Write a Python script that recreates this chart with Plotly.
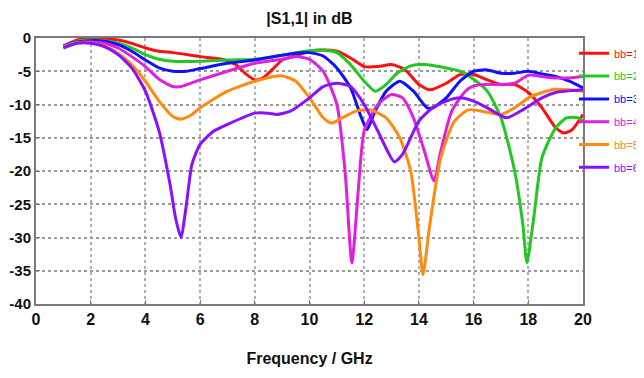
import plotly.graph_objects as go

# ---- data ----
f1 = [1, 1.5, 2, 2.5, 3, 3.5, 4, 4.5, 5, 6, 6.8, 7.3, 7.7, 8, 8.3, 8.7, 9, 9.5, 10, 10.5, 11, 11.5, 12, 12.5, 13, 13.5, 14, 14.4, 15, 15.5, 16, 16.5, 17, 17.5, 18, 18.5, 19, 19.3, 19.6, 20]
s1 = [-1.2, -0.3, -0.1, -0.1, -0.3, -0.8, -1.5, -2.0, -2.2, -2.8, -3.2, -4.0, -5.5, -6.3, -6.0, -4.5, -3.3, -2.7, -2.0, -1.8, -2.0, -3.0, -4.3, -4.3, -4.0, -4.8, -7.0, -7.8, -6.8, -5.5, -5.5, -6.3, -7.0, -7.0, -8.2, -10.5, -13.5, -14.3, -13.8, -11.5]

f2 = [1, 1.5, 2, 2.5, 3, 3.5, 4, 4.5, 5, 6, 7, 8, 9, 9.5, 10, 10.5, 11, 11.5, 12, 12.4, 12.8, 13.2, 13.7, 14.2, 15, 15.5, 16, 16.5, 17, 17.5, 17.8, 17.95, 18.2, 18.5, 19, 19.4, 19.8, 20]
s2 = [-1.2, -0.5, -0.3, -0.4, -0.8, -1.5, -2.5, -3.2, -3.5, -3.5, -3.3, -3.2, -2.6, -2.2, -1.9, -1.8, -2.2, -4.0, -6.5, -8.0, -7.0, -5.3, -4.2, -4.0, -4.5, -5.0, -6.2, -8.0, -12.0, -20.0, -28.0, -33.8, -27.0, -18.0, -13.5, -12.0, -12.0, -12.5]

f3 = [1, 1.5, 2, 2.5, 3, 3.5, 4, 4.5, 5, 5.5, 6, 7, 8, 9, 9.5, 10, 10.5, 11, 11.5, 11.9, 12.1, 12.4, 12.8, 13.3, 13.8, 14.3, 14.5, 15, 15.5, 16, 16.5, 17, 17.5, 18, 18.5, 19, 19.5, 20]
s3 = [-1.2, -0.6, -0.4, -0.5, -1.0, -2.0, -3.3, -4.5, -5.0, -5.0, -4.6, -3.8, -3.3, -2.6, -2.3, -2.2, -2.7, -4.5, -7.5, -12.0, -13.8, -11.0, -8.0, -6.5, -8.0, -10.5, -10.5, -9.0, -6.5, -5.0, -4.8, -5.3, -5.3, -5.0, -5.4, -5.8, -6.5, -7.5]

f4 = [1, 1.5, 2, 2.5, 3, 3.5, 4, 4.5, 5, 5.3, 6, 7, 8, 9, 9.5, 10, 10.5, 11, 11.3, 11.55, 11.8, 12, 12.5, 13, 13.4, 13.8, 14.2, 14.55, 14.8, 15.2, 15.7, 16, 16.5, 17, 17.5, 18, 18.5, 19, 19.5, 20]
s4 = [-1.3, -0.7, -0.6, -0.8, -1.5, -2.8, -4.3, -6.2, -7.3, -7.3, -6.3, -5.0, -3.8, -3.2, -2.8, -3.2, -5.0, -10.0, -20.0, -33.8, -22.0, -14.0, -10.0, -8.5, -9.0, -12.0, -17.0, -21.5, -17.0, -11.0, -8.0, -7.2, -7.0, -7.0, -6.8, -5.6, -5.8, -6.0, -6.0, -5.8]

f5 = [1, 1.5, 2, 2.5, 3, 3.5, 4, 4.5, 5, 5.3, 5.7, 6, 7, 8, 9, 9.5, 10, 10.5, 10.8, 11.2, 11.7, 12.2, 12.8, 13.3, 13.7, 14.0, 14.15, 14.4, 14.8, 15.3, 15.8, 16.3, 17, 17.5, 18, 18.5, 19, 19.5, 20]
s5 = [-1.3, -0.7, -0.7, -1.2, -2.3, -4.0, -6.5, -9.5, -11.8, -12.2, -11.5, -10.5, -8.0, -6.5, -5.7, -6.5, -9.0, -12.0, -12.8, -12.0, -11.0, -10.8, -12.0, -15.0, -20.0, -30.0, -35.6, -28.0, -18.0, -12.5, -10.8, -11.0, -11.5, -10.5, -9.0, -8.2, -7.7, -7.8, -8.0]

f6 = [1, 1.5, 2, 2.5, 3, 3.5, 4, 4.5, 4.9, 5.1, 5.3, 5.5, 5.7, 6, 6.5, 7, 8, 8.5, 8.8, 9.3, 10, 10.5, 11, 11.5, 12, 12.5, 13.1, 13.4, 14, 14.5, 15, 15.5, 16, 16.5, 17.2, 17.8, 18.5, 19, 20]
s6 = [-1.5, -0.8, -0.8, -1.3, -2.5, -4.5, -8.0, -14.0, -22.0, -27.0, -30.0, -25.0, -19.0, -16.0, -14.0, -13.0, -11.3, -11.3, -11.5, -11.0, -9.0, -7.3, -6.8, -7.3, -10.0, -14.0, -18.6, -17.5, -12.5, -10.5, -9.5, -9.0, -9.5, -10.5, -12.0, -10.8, -9.0, -8.2, -7.8]

names = ["bb=1", "bb=2", "bb=3", "bb=4", "bb=5", "bb=6"]
colors = ["#ff1010", "#22c822", "#1010ff", "#e020e0", "#ff8a10", "#8a10ff"]

x_ticks = [0, 2, 4, 6, 8, 10, 12, 14, 16, 18, 20]
y_ticks = [0, -5, -10, -15, -20, -25, -30, -35, -40]

FONT = "Liberation Sans, Arial, sans-serif"

# the page body adds an 8px offset, so the figure is sized to fit the window
W, H = 636, 370
L, R, T, B = 28, 61, 30, 74
plot_w = W - L - R

fig = go.Figure()
for fx, sy, nm, c in zip([f1, f2, f3, f4, f5, f6], [s1, s2, s3, s4, s5, s6], names, colors):
    fig.add_trace(go.Scatter(
        x=fx, y=sy, mode="lines",
        name=f'<span style="color:{c}">{nm}</span>', legendgroup=nm,
        line=dict(color=c, width=3, shape="spline", smoothing=0.6),
    ))

fig.update_layout(
    width=W, height=H,
    margin=dict(l=L, r=R, t=T, b=B, autoexpand=False),
    paper_bgcolor="white", plot_bgcolor="white",
    font=dict(family=FONT, color="#111"),
    title=dict(text="<b>|S1,1| in dB</b>", x=(L + plot_w / 2) / W, xanchor="center",
               y=1 - 10 / H, yanchor="middle", font=dict(size=16, family=FONT, color="#111")),
    showlegend=True,
    legend=dict(x=(566 - L) / plot_w, y=0.997, xanchor="left", yanchor="top",
                bgcolor="rgba(0,0,0,0)", borderwidth=0,
                font=dict(size=11, family=FONT), itemwidth=30, tracegroupgap=3.8),
    xaxis=dict(range=[0, 20], tickvals=x_ticks, ticktext=[f"<b>{v}</b>" for v in x_ticks],
               tickfont=dict(size=16, family=FONT, color="#111"), automargin=False,
               showgrid=True, gridcolor="#b0b0b0", griddash="dot", gridwidth=2,
               showline=True, linecolor="#7a7a7a", linewidth=2, mirror=True,
               ticks="inside", ticklen=4, tickcolor="#7a7a7a", zeroline=False,
               title=dict(text="<b>Frequency / GHz</b>", font=dict(size=16, family=FONT, color="#111"), standoff=26)),
    yaxis=dict(range=[-40, 0], tickvals=y_ticks, ticktext=[f"<b>{v}</b>" for v in y_ticks],
               tickfont=dict(size=15, family=FONT, color="#111"), automargin=False,
               showgrid=True, gridcolor="#9a9a9a", griddash="dot", gridwidth=2,
               showline=True, linecolor="#7a7a7a", linewidth=2, mirror=True,
               ticks="inside", ticklen=4, tickcolor="#7a7a7a", zeroline=False, ticklabelstandoff=0),
)

fig.write_html("out.html")
